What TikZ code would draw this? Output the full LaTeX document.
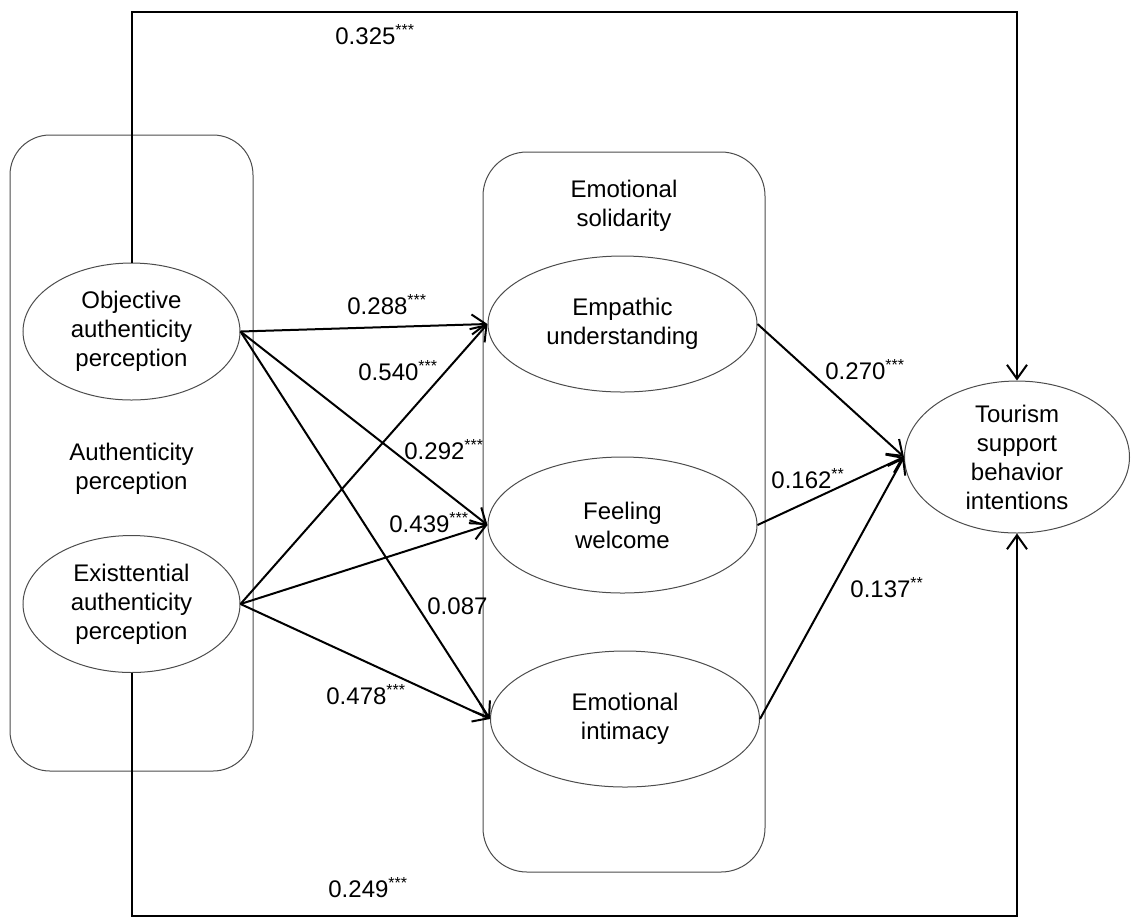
\documentclass[tikz,border=0pt]{standalone}
\usepackage{fontspec}
\setmainfont{Liberation Sans}
\usepackage{tikz}
\usetikzlibrary{shapes.geometric,arrows.meta}

\newcommand{\stars}[1]{\textsuperscript{#1}}

\begin{document}
\begin{tikzpicture}[x=0.5pt,y=-0.5pt,
  every node/.style={font=\fontsize{12}{14.5}\selectfont},
  construct/.style={ellipse,draw=black!70,line width=0.5pt,align=center,inner sep=0pt},
  group/.style={rectangle,draw=black!70,line width=0.5pt,rounded corners=20pt},
  link/.style={line width=1pt,-{Straight Barb[length=7pt,width=10pt]}},
  coef/.style={anchor=base west,inner sep=0pt}]
\useasboundingbox (0,0) rectangle (1131,918);

% containers
\node[group,minimum width=121.5pt,minimum height=318pt] (authbox) at (131.5,453) {};
\node[group,minimum width=141pt,minimum height=360pt,rounded corners=22pt] (solbox) at (624,512) {};
\node[align=center] (authlabel) at (131.5,469) {Authenticity\\perception};
\node[align=center] (sollabel) at (624,206) {Emotional\\solidarity};

% constructs
\node[construct,minimum width=108.5pt,minimum height=68.5pt] (obj) at (131.5,331.5) {Objective\\authenticity\\perception};
\node[construct,minimum width=108.5pt,minimum height=68.5pt] (exi) at (131.5,604) {Existtential\\authenticity\\perception};
\node[construct,minimum width=134.5pt,minimum height=68pt] (emp) at (622.5,324) {Empathic\\understanding};
\node[construct,minimum width=134.5pt,minimum height=68pt] (fee) at (622.5,525) {Feeling\\welcome};
\node[construct,minimum width=134.5pt,minimum height=68pt] (int) at (625,719) {Emotional\\intimacy};
\node[construct,minimum width=112.5pt,minimum height=76pt] (tsb) at (1017,457) {Tourism\\support\\behavior\\intentions};

\coordinate (top) at (131.5,12);
\coordinate (bottom) at (131.5,916);

% paths
\foreach \a in {obj,exi}{
    \foreach \b in {emp,fee,int}{
        \draw[link] (\a.east) -- (\b.west);
    }
}
\foreach \a in {emp,fee,int}{
    \draw[link] (\a.east) -- (tsb.west);
}
\draw[link] (obj.north) |- (top -| tsb.north) -- (tsb.north);
\draw[link] (exi.south) |- (bottom -| tsb.south) -- (tsb.south);

% coefficients
\node[coef] (c325) at (335,44) {0.325\stars{***}};
\node[coef] (c288) at (347,314) {0.288\stars{***}};
\node[coef] (c540) at (358,380) {0.540\stars{***}};
\node[coef] (c292) at (404,459) {0.292\stars{***}};
\node[coef] (c439) at (389,532) {0.439\stars{***}};
\node[coef] (c087) at (427,614) {0.087};
\node[coef] (c478) at (326,704) {0.478\stars{***}};
\node[coef] (c270) at (825,379) {0.270\stars{***}};
\node[coef] (c162) at (771,488) {0.162\stars{**}};
\node[coef] (c137) at (850,597) {0.137\stars{**}};
\node[coef] (c249) at (328,897) {0.249\stars{***}};
\end{tikzpicture}
\end{document}
